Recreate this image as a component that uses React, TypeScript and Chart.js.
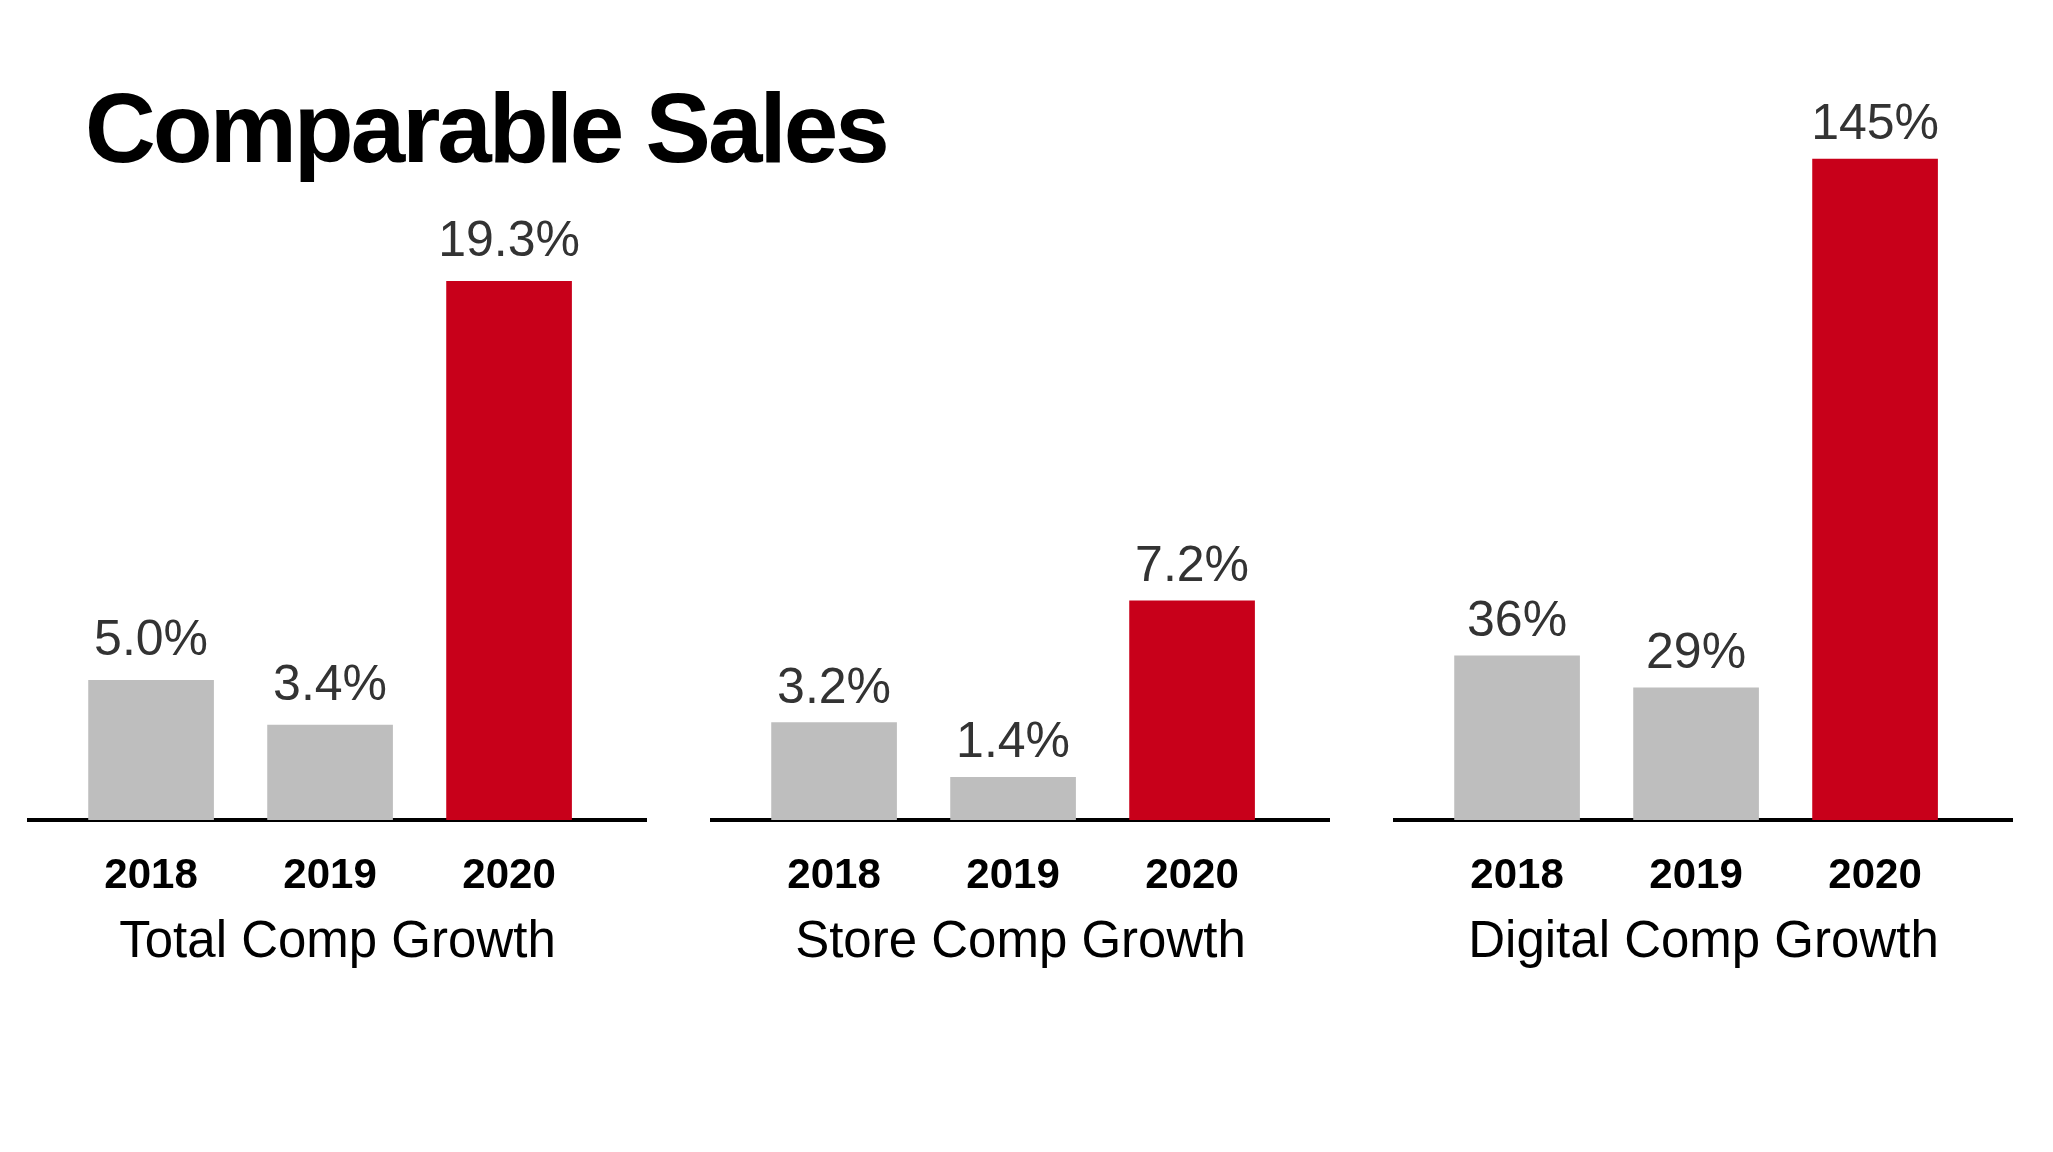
import React, { useEffect, useRef } from 'react';
import { Chart, registerables } from 'chart.js';

Chart.register(...registerables);

const chartTitle = 'Comparable Sales';
const years = ['2018', '2019', '2020'];
const panelTitles = ['Total Comp Growth', 'Store Comp Growth', 'Digital Comp Growth'];
const totalComp = [5.0, 3.4, 19.3];
const storeComp = [3.2, 1.4, 7.2];
const digitalComp = [36, 29, 145];
const panelValues = [totalComp, storeComp, digitalComp];
const panelDecimals = [1, 1, 0];
const panelYMax = [24, 22, 147];

const GRAY = '#bebebe';
const RED = '#c8001a';
const barColors = [GRAY, GRAY, RED];
const FONT = '"Liberation Sans", Arial, Helvetica, sans-serif';
const labelGaps = [25, 20, 20];

const valueLabelPlugin = {
  id: 'valueLabels',
  afterDatasetsDraw(chart: any, _args: any, opts: any) {
    const { ctx } = chart;
    const meta = chart.getDatasetMeta(0);
    const data = chart.data.datasets[0].data as any[];
    ctx.save();
    ctx.font = `50px ${FONT}`;
    ctx.fillStyle = '#333333';
    ctx.textAlign = 'center';
    ctx.textBaseline = 'alphabetic';
    meta.data.forEach((bar: any, i: number) => {
      const v = data[i].y as number;
      ctx.fillText(v.toFixed(opts.decimals) + '%', bar.x, bar.y - opts.gap);
    });
    ctx.restore();
  },
};

export default function App() {
  const refs = [useRef<HTMLCanvasElement>(null), useRef<HTMLCanvasElement>(null), useRef<HTMLCanvasElement>(null)];

  useEffect(() => {
    const charts: Chart[] = [];
    refs.forEach((r, p) => {
      if (!r.current) return;
      const values = panelValues[p];
      const chart = new Chart(r.current, {
        type: 'bar',
        data: {
          datasets: [
            {
              data: values.map((v, i) => ({ x: i + 1, y: v })),
              backgroundColor: barColors,
              barThickness: 125,
              borderWidth: 0,
            },
          ],
        },
        plugins: [valueLabelPlugin as any],
        options: {
          animation: false,
          responsive: false,
          maintainAspectRatio: false,
          layout: { padding: { top: 150, bottom: 26, left: 29, right: 37 } },
          plugins: {
            legend: { display: false },
            tooltip: { enabled: false },
            valueLabels: { decimals: panelDecimals[p], gap: labelGaps[p] },
          } as any,
          scales: {
            x: {
              type: 'linear',
              min: 0.318,
              max: 3.765,
              offset: false,
              z: 1,
              grid: { display: false, drawTicks: false, offset: false },
              border: { display: true, color: '#000000', width: 4 },
              afterBuildTicks: (s: any) => {
                s.ticks = years.map((_, i) => ({ value: i + 1 }));
              },
              afterFit: (s: any) => {
                s.height = 154;
              },
              ticks: {
                padding: 35,
                color: '#000000',
                autoSkip: false,
                maxRotation: 0,
                font: { family: FONT, size: 42, weight: 'bold', lineHeight: 1 },
                callback: (v: any) => years[Math.round(Number(v)) - 1] ?? '',
              },
              title: {
                display: true,
                text: panelTitles[p],
                color: '#000000',
                padding: 0,
                font: { family: FONT, size: 51, lineHeight: 1.2 },
              },
            } as any,
            y: {
              display: false,
              min: 0,
              max: panelYMax[p],
            },
          },
        },
      });
      charts.push(chart);
    });
    return () => charts.forEach((c) => c.destroy());
  }, []);

  return (
    <div
      style={{
        position: 'absolute',
        left: 0,
        top: 0,
        width: 2053,
        height: 1152,
        background: '#ffffff',
        overflow: 'hidden',
      }}
    >
      <div
        style={{
          position: 'absolute',
          left: 85,
          top: 79,
          fontFamily: FONT,
          fontWeight: 'bold',
          fontSize: 98,
          lineHeight: 1,
          letterSpacing: '-3px',
          whiteSpace: 'nowrap',
          color: '#000000',
        }}
      >
        {chartTitle}
      </div>
      {refs.map((r, i) => (
        <canvas
          key={i}
          ref={r}
          width={683}
          height={1000}
          style={{ position: 'absolute', left: 683 * i, top: 0, width: 683, height: 1000 }}
        />
      ))}
    </div>
  );
}
